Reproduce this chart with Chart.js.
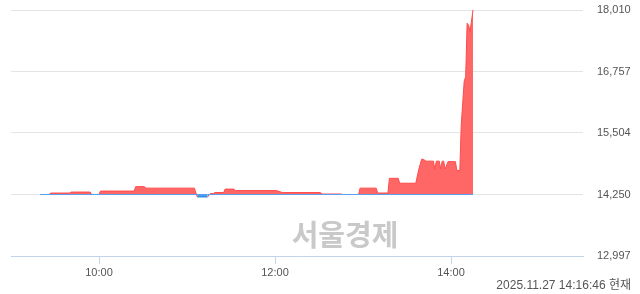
<!DOCTYPE html>
<html>
<head>
<meta charset="utf-8">
<script src="https://cdn.jsdelivr.net/npm/chart.js@4.4.1/dist/chart.umd.min.js"></script>
<style>
  body { margin: 0; background: #fff; }
  #wrap { position: relative; width: 640px; height: 294px; }
  #chart { display: block; }
  .mark {
    position: absolute; left: 285px; top: 216px; width: 120px;
    font: bold 29px "Noto Sans CJK KR", sans-serif; color: #c9c9c9;
    text-align: center; line-height: 34px;
  }
  .stamp {
    position: absolute; right: 9px; top: 277px;
    font: 12px "Liberation Sans", "Noto Sans CJK KR", sans-serif; color: #555;
    line-height: 16px;
  }
</style>
</head>
<body>
<div id="wrap">
  <canvas id="chart" width="640" height="294"></canvas>
  <div class="mark">서울경제</div>
  <div class="stamp">2025.11.27 14:16:46 현재</div>
</div>
<script>
// ================= DATA =================
const BASE = 14250;
const times = [
  "09:20", "09:26", "09:27", "09:40", "09:41", "09:54", "09:55", "10:00",
  "10:01", "10:24", "10:25", "10:31", "10:32", "11:05", "11:07", "11:14",
  "11:16", "11:18", "11:19", "11:25", "11:26", "11:32", "11:33", "12:01",
  "12:05", "12:31", "12:32", "12:45", "12:46", "12:57", "12:58", "13:09",
  "13:10", "13:17", "13:18", "13:24", "13:25", "13:36", "13:38", "13:40",
  "13:41", "13:43", "13:48", "13:49", "13:50", "13:52", "13:53", "13:54",
  "13:55", "13:56", "13:58", "14:03", "14:04", "14:06", "14:07", "14:09",
  "14:10", "14:11", "14:12", "14:13", "14:15"
];
const prices = [
  14250, 14250, 14280, 14280, 14300, 14300, 14250, 14250,
  14320, 14320, 14410, 14410, 14380, 14380, 14200, 14200,
  14270, 14270, 14290, 14290, 14360, 14360, 14330, 14330,
  14290, 14290, 14260, 14260, 14250, 14250, 14380, 14380,
  14280, 14280, 14580, 14580, 14480, 14480, 14760, 14970,
  14970, 14930, 14930, 14760, 14930, 14930, 14770, 14930,
  14930, 14770, 14920, 14920, 14740, 14740, 15680, 16560,
  16650, 17740, 17700, 17570, 18010
];
const yTicks = [12997, 14250, 15504, 16757, 18010];
const xTickTimes = ["10:00", "12:00", "14:00"];
const dayStart = "09:00";
const dayEnd = "15:30";

// ================= UTIL =================
function toMin(t) {
  const [h, m] = t.split(":").map(Number);
  return h * 60 + m - 540;
}

const RED = "#ff4a4a";
const BLUE = "#1e88e5";

const points = times.map((t, i) => ({ x: toMin(t), y: prices[i] }));
const baseLine = [
  { x: toMin(times[0]), y: BASE },
  { x: toMin(times[times.length - 1]), y: BASE }
];

// ================= GRAFIK =================
const ctx = document.getElementById("chart").getContext("2d");

new Chart(ctx, {
  type: "line",
  data: {
    datasets: [
      {
        data: baseLine,
        borderColor: "#5a9ef0",
        borderWidth: 1,
        pointRadius: 0,
        fill: false
      },
      {
        data: points,
        borderWidth: 1,
        pointRadius: 0,
        tension: 0,
        segment: {
          borderColor: c => (c.p0.parsed.y > BASE || c.p1.parsed.y > BASE) ? RED : BLUE
        },
        fill: {
          target: { value: BASE },
          above: "rgba(255, 92, 92, 0.94)",
          below: "rgba(40, 140, 235, 0.85)"
        }
      }
    ]
  },
  options: {
    responsive: false,
    animation: false,
    layout: {
      padding: { left: 11, top: 10, right: 0, bottom: 0 }
    },
    plugins: {
      legend: { display: false },
      tooltip: { enabled: false }
    },
    scales: {
      x: {
        type: "linear",
        min: toMin(dayStart),
        max: toMin(dayEnd),
        afterFit: s => {
          s.height = 38;
          s.paddingLeft = 0;
          s.paddingRight = 0;
        },
        afterBuildTicks: s => {
          s.ticks = xTickTimes.map(t => ({ value: toMin(t) }));
        },
        grid: {
          drawOnChartArea: false,
          drawTicks: true,
          tickLength: 8,
          color: "#c3d3ea"
        },
        border: { color: "#c3d3ea" },
        ticks: {
          autoSkip: false,
          maxRotation: 0,
          padding: 2,
          color: "#555",
          font: { family: "Liberation Sans", size: 11 },
          callback: v => {
            const i = xTickTimes.findIndex(t => toMin(t) === v);
            return i >= 0 ? xTickTimes[i] : "";
          }
        }
      },
      y: {
        position: "right",
        min: yTicks[0],
        max: yTicks[yTicks.length - 1],
        afterFit: s => {
          s.width = 57;
          s.paddingTop = 0;
          s.paddingBottom = 0;
        },
        afterBuildTicks: s => {
          s.ticks = yTicks.map(v => ({ value: v }));
        },
        grid: {
          drawTicks: false,
          color: c => (c.tick && c.tick.value === yTicks[0]) ? "rgba(0,0,0,0)" : "#e4e4e4"
        },
        border: { display: false },
        ticks: {
          padding: 14,
          color: "#555",
          font: { family: "Liberation Sans", size: 11 },
          callback: v => v.toLocaleString("en-US")
        }
      }
    }
  }
});
</script>
</body>
</html>
